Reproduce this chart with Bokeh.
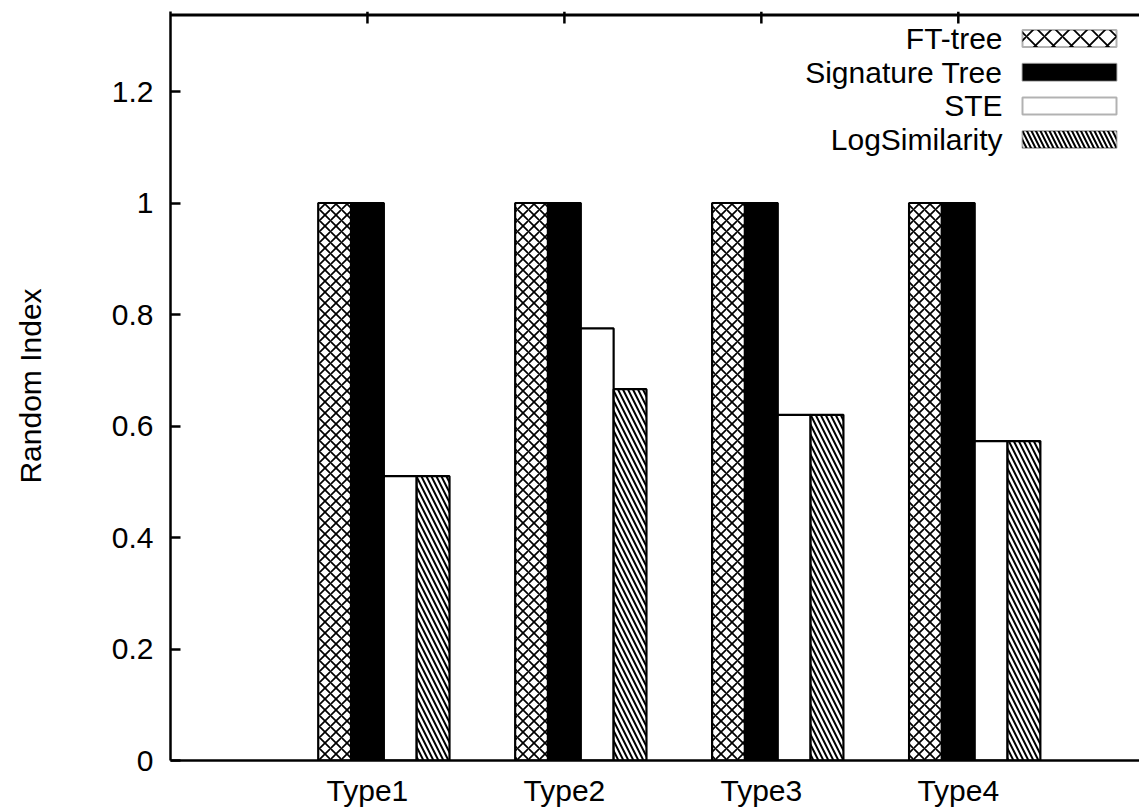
from bokeh.plotting import figure
from bokeh.models import Range1d, FixedTicker, Label, BoxAnnotation
from bokeh.embed import file_html
from bokeh.resources import INLINE

# ---- data ----
categories = ["Type1", "Type2", "Type3", "Type4"]
series_names = ["FT-tree", "Signature Tree", "STE", "LogSimilarity"]
ft_tree = [1.0, 1.0, 1.0, 1.0]
signature_tree = [1.0, 1.0, 1.0, 1.0]
ste = [0.51, 0.775, 0.62, 0.573]
log_similarity = [0.51, 0.666, 0.62, 0.573]
y_ticks = [0, 0.2, 0.4, 0.6, 0.8, 1.0, 1.2]
y_tick_labels = ["0", "0.2", "0.4", "0.6", "0.8", "1", "1.2"]

series_values = [ft_tree, signature_tree, ste, log_similarity]
styles = [
    dict(fill_color="white", hatch_pattern="x", hatch_scale=11, hatch_weight=1.7, hatch_color="black"),
    dict(fill_color="black"),
    dict(fill_color="white"),
    dict(fill_color="white", hatch_pattern="\\", hatch_scale=10, hatch_weight=2, hatch_color="black"),
]
legend_styles = [
    dict(fill_color="white", hatch_pattern="x", hatch_scale=18, hatch_weight=1.8, hatch_color="black"),
    dict(fill_color="black"),
    dict(fill_color="white"),
    dict(fill_color="white", hatch_pattern="\\", hatch_scale=9, hatch_weight=2, hatch_color="black"),
]

FONT = "Liberation Sans"
FS = "30px"
W, H = 1139, 810
BL, BR, BT, BB = 170, 0, 11, 50
FRAME_W, FRAME_H = W - BL - BR, H - BT - BB
X0, X1 = -1.0, 3.92
Y0, Y1 = 0.0, 1.3435

p = figure(width=W, height=H, output_backend="svg", toolbar_location=None,
           x_range=Range1d(X0, X1), y_range=Range1d(Y0, Y1),
           min_border_left=BL, min_border_right=BR, min_border_top=BT, min_border_bottom=BB)
p.outline_line_color = None
p.xgrid.visible = False
p.ygrid.visible = False
p.background_fill_color = "white"
p.border_fill_color = "white"

bar_w = 1.0 / 6.0
for j, (vals, st) in enumerate(zip(series_values, styles)):
    xs = [i + (j - 1) * bar_w for i in range(len(categories))]
    p.vbar(x=xs, top=vals, bottom=0, width=bar_w, line_color="black", line_width=2.2, **st)

# x axis (below)
xa = p.xaxis[0]
xa.ticker = FixedTicker(ticks=list(range(len(categories))))
xa.major_label_overrides = {i: c for i, c in enumerate(categories)}
xa.minor_tick_line_color = None
xa.major_tick_in = 10
xa.major_tick_out = 0
xa.major_label_standoff = 13
xa.axis_line_width = 2.5
xa.major_tick_line_width = 2.5
xa.major_label_text_font = FONT
xa.major_label_text_font_size = FS
xa.major_label_text_color = "black"

# y axis (left)
ya = p.yaxis[0]
ya.ticker = FixedTicker(ticks=y_ticks)
ya.major_label_overrides = {t: l for t, l in zip(y_ticks, y_tick_labels)}
ya.minor_tick_line_color = None
ya.major_tick_in = 10
ya.major_tick_out = 0
ya.major_label_standoff = 17
ya.axis_line_width = 2.5
ya.major_tick_line_width = 2.5
ya.major_label_text_font = FONT
ya.major_label_text_font_size = FS
ya.major_label_text_color = "black"
ya.axis_label = "Random Index"
ya.axis_label_text_font = FONT
ya.axis_label_text_font_size = FS
ya.axis_label_text_font_style = "normal"
ya.axis_label_text_color = "black"
ya.axis_label_standoff = 62

# top border drawn just inside the frame, with inward ticks at the category positions
px_unit_y = (Y1 - Y0) / FRAME_H
p.add_layout(BoxAnnotation(left=X0, right=X1, top=Y1 - 2.0 * px_unit_y,
                           bottom=Y1 - 5.0 * px_unit_y, fill_color="black",
                           fill_alpha=1.0, line_color=None))
tick_len = 12 * px_unit_y
top_ticks = list(range(len(categories)))
p.segment(x0=top_ticks, x1=top_ticks, y0=[Y1] * len(top_ticks),
          y1=[Y1 - tick_len] * len(top_ticks), line_color="black", line_width=2.5)

# ---- legend (labels left of swatches, top-right) ----
def px_x(px):
    return X0 + px / FRAME_W * (X1 - X0)

def px_y(px_from_top):
    return Y1 - px_from_top / FRAME_H * (Y1 - Y0)

sw_left, sw_right, txt_right = 852, 946, 832
row0, row_step, sw_h = 27, 33.7, 17
for k, (name, st) in enumerate(zip(series_names, legend_styles)):
    cy = row0 + k * row_step
    p.add_layout(BoxAnnotation(left=px_x(sw_left), right=px_x(sw_right),
                               top=px_y(cy - sw_h / 2), bottom=px_y(cy + sw_h / 2),
                               line_color="black", line_width=2, fill_alpha=1.0, **st))
    p.add_layout(Label(x=px_x(txt_right), y=px_y(cy), text=name, text_align="right",
                       text_baseline="middle", text_font=FONT, text_font_size=FS,
                       text_color="black"))

open("out.html", "w").write(file_html(p, INLINE))
